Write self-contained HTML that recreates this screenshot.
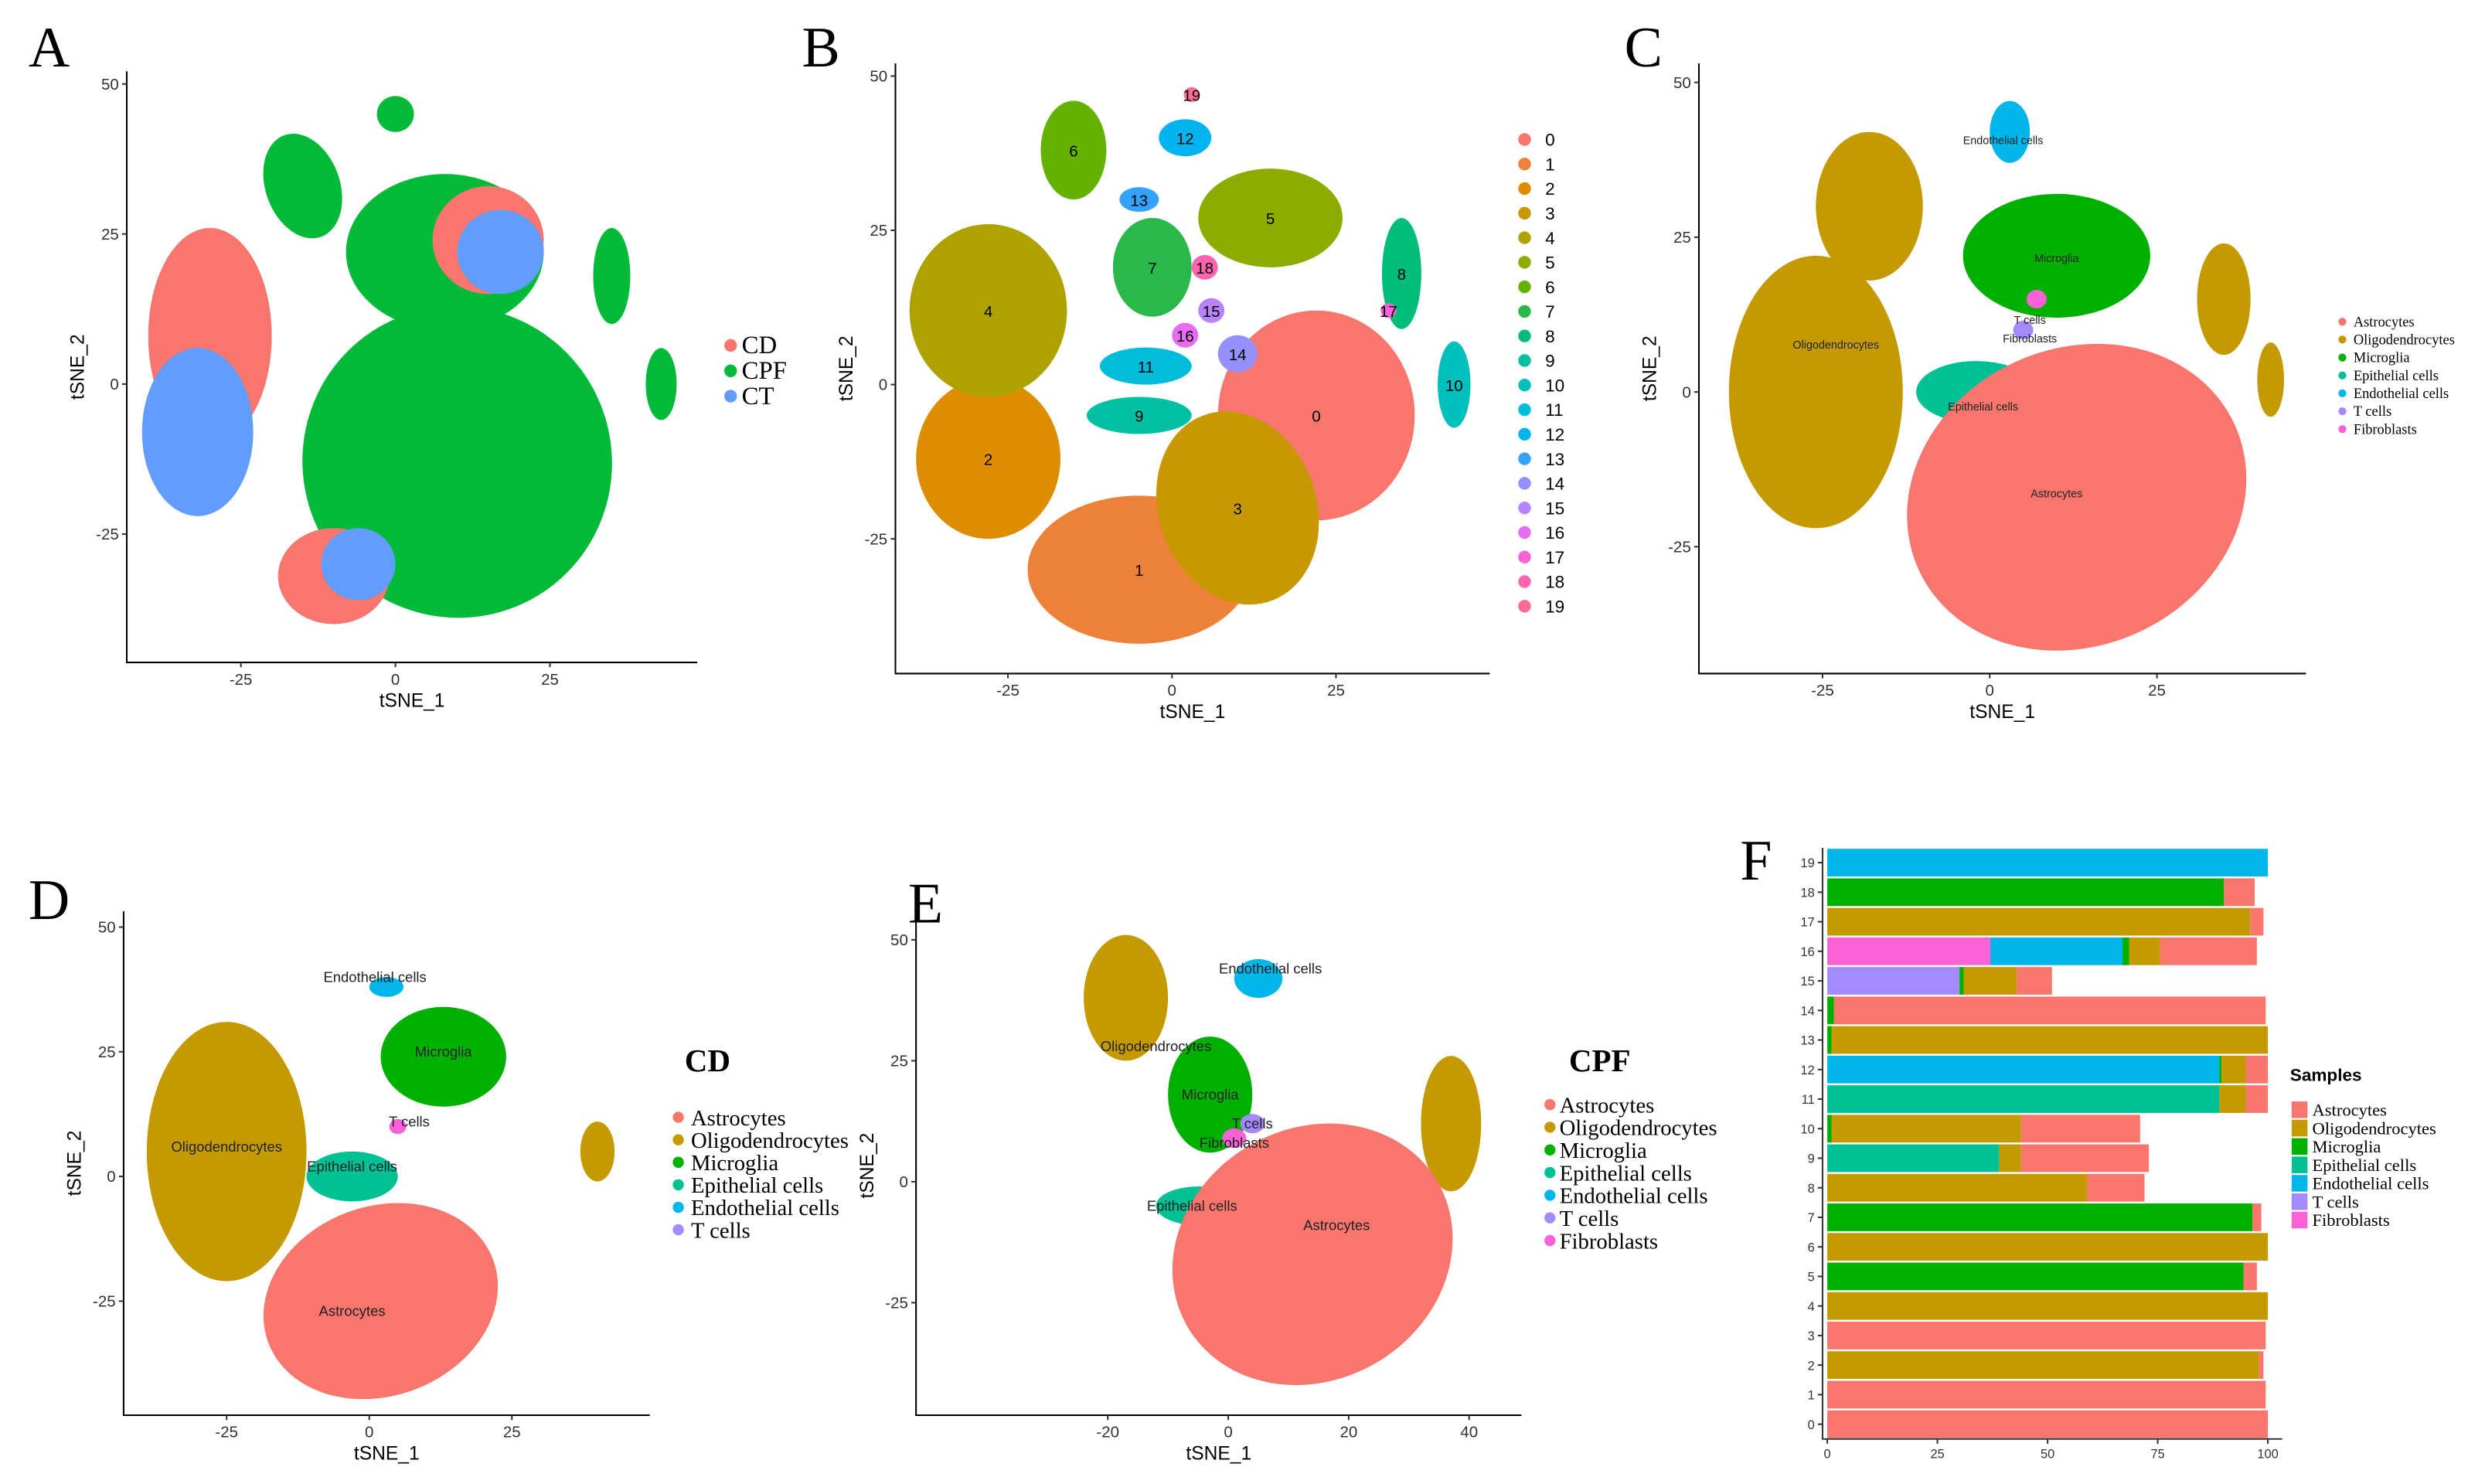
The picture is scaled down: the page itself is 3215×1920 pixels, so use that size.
<!DOCTYPE html>
<html><head><meta charset="utf-8">
<style>
html,body{margin:0;padding:0;background:#fff;}
svg{display:block;}
text{font-family:"Liberation Sans",sans-serif;}
.serif{font-family:"Liberation Serif",serif;}
</style></head>
<body>
<svg id="fig" width="3215" height="1920" viewBox="0 0 1568 936.4" xmlns="http://www.w3.org/2000/svg"></svg>
<script>
// ---------- DATA ----------
const clusterIds = [0,1,2,3,4,5,6,7,8,9,10,11,12,13,14,15,16,17,18,19];
const cellTypes = ["Astrocytes","Oligodendrocytes","Microglia","Epithelial cells","Endothelial cells","T cells","Fibroblasts"];
const fibroPct = [0,0,0,0,0,0,0,0,0,0,0,0,0,0,0,0,37,0,0,0];
const tcellPct = [0,0,0,0,0,0,0,0,0,0,0,0,0,0,0,30,0,0,0,0];
const endoPct  = [0,0,0,0,0,0,0,0,0,0,0,0,89,0,0,0,30,0,0,100];
const epiPct   = [0,0,0,0,0,0,0,0,0,39,0,89,0,0,0,0,0,0,0,0];
const microPct = [0,0,0,0,0,94.5,0,96.5,0,0,1,0,0.5,1,1.5,1,1.5,0,90,0];
const oligoPct = [0,0,98,0,100,0,100,0,59,5,43,6,5.5,99,0,12,7,96,0,0];
const astroPct = [100,99.5,1,99.5,0,3,0,2,13,29,27,5,5,0,98,8,22,3,7,0];
const xTicksF = [0,25,50,75,100];

// tSNE panel cluster summaries (data units)
const aCx=[-30,-32,-15,10,8,15,17,35,43,-10,-6,0];
const aCy=[8,-8,33,-13,22,24,22,18,0,-32,-30,45];
const aRx=[10,9,6,25,16,9,7,3,2.5,9,6,3];
const aRy=[18,14,9,26,13,9,7,8,6,8,6,3];
const aRot=[0,0,-20,-25,0,0,0,0,0,0,0,0];
const aCol=[0,2,1,1,1,0,2,1,1,0,2,1];
const aLegend=["CD","CPF","CT"];

const bCx=[22,-5,-28,10,-28,15,-15,-3,35,-5,43,-4,2,-5,10,6,2,33,5,3];
const bCy=[-5,-30,-12,-20,12,27,38,19,18,-5,0,3,40,30,5,12,8,12,19,47];
const bRx=[15,17,11,12,12,11,5,6,3,8,2.5,7,4,3,3,2,2,1.2,2,1.2];
const bRy=[17,12,13,16,14,8,8,8,9,3,7,3,3,2,3,2,2,1.2,2,1.2];
const bRot=[0,0,0,-20,0,0,0,0,0,0,0,0,0,0,0,0,0,0,0,0];

const cCx=[-26,-18,35,42,10,3,-2,13,5,7];
const cCy=[0,30,15,2,22,42,0,-17,10,15];
const cRx=[13,8,4,2,14,3,9,26,1.5,1.5];
const cRy=[22,12,9,6,10,5,5,24,1.5,1.5];
const cRot=[0,0,0,0,0,0,0,-25,0,0];
const cType=[1,1,1,1,2,4,3,0,5,6];

const dCx=[-25,40,13,3,-3,2,5];
const dCy=[5,5,24,38,0,-25,10];
const dRx=[14,3,11,3,8,21,1.5];
const dRy=[26,6,10,2,5,19,1.5];
const dRot=[0,0,0,0,0,-20,0];
const dType=[1,1,2,4,3,0,6];

const eCx=[-17,37,-3,5,-5,14,4,1];
const eCy=[38,12,18,42,-5,-15,12,9];
const eRx=[7,5,7,4,7,24,2,2];
const eRy=[13,14,12,4,4,26,2,2];
const eRot=[0,0,0,0,0,-30,0,0];
const eType=[1,1,2,4,3,0,5,6];

// ---------- RENDER ----------
const NS="http://www.w3.org/2000/svg";
const svg=document.getElementById("fig");
const typeCol=["#F8766D","#C49A00","#00B000","#00C094","#00B6EB","#A58AFF","#FB61D7"];
const aColors=["#F8766D","#00BA38","#619CFF"];
const bColors=["#F8766D","#EC8239","#DE8C00","#C79800","#AEA200","#8EAB00","#64B200","#2AB84B","#00BD7C","#00C0A3","#00C0BD","#00BCD8","#00B4EF","#35A2FF","#9590FF","#B983FF","#E76BF3","#FB61D7","#FF64B0","#FF6C91"];
function el(tag,attrs,parent){const e=document.createElementNS(NS,tag);for(const k in attrs)e.setAttribute(k,attrs[k]);(parent||svg).appendChild(e);return e;}
function txt(s,x,y,size,attrs,parent){const t=el("text",Object.assign({x:x,y:y,"font-size":size},attrs||{}),parent);t.textContent=s;return t;}
function lin(d0,d1,p0,p1){return v=>p0+(v-d0)*(p1-p0)/(d1-d0);}

function panel(name,box,xs,ys,xt,yt,letter,lx,ly){
  const g=el("g",{});
  
  
  const L=txt(letter,lx,ly,36,{"class":"serif"},g);
  
  
  const ax=el("path",{d:`M${box[0]} ${box[1]} V${box[3]} H${box[2]}`,stroke:"#000","stroke-width":1,fill:"none"},g);
  
  
  xt.forEach(v=>{const x=xs(v);el("line",{x1:x,x2:x,y1:box[3],y2:box[3]+3,stroke:"#333"},g);
    const t=txt(String(v),x,box[3]+14,10,{"text-anchor":"middle",fill:"#333"},g);
    });
  yt.forEach(v=>{const y=ys(v);el("line",{x1:box[0]-3,x2:box[0],y1:y,y2:y,stroke:"#333"},g);
    const t=txt(String(v),box[0]-5,y+3.5,10,{"text-anchor":"end",fill:"#333"},g);
    });
  return g;
}
function axisTitles(g,box){
  const cx=(box[0]+box[2])/2;
  const t1=txt("tSNE_1",cx,box[3]+28,12,{"text-anchor":"middle"},g);
  
  const yy=(box[1]+box[3])/2,xx=box[0]-27;
  const t2=txt("tSNE_2",xx,yy,12,{"text-anchor":"middle",transform:`rotate(-90 ${xx} ${yy})`},g);
  
}
function blobs(g,xs,ys,cx,cy,rx,ry,rot,colFn,nameFn){
  const kx=Math.abs(xs(1)-xs(0)),ky=Math.abs(ys(1)-ys(0));
  for(let i=0;i<cx.length;i++){
    const px=xs(cx[i]),py=ys(cy[i]);
    const e=el("ellipse",{cx:px,cy:py,rx:rx[i]*kx,ry:ry[i]*ky,fill:colFn(i),transform:`rotate(${rot[i]} ${px} ${py})`},g);
    
    
  }
}

// Panel A
{const box=[80,45,440,418];const xs=lin(-25,25,152,347),ys=lin(-25,50,337,53);
 const g=panel("panel-a",box,xs,ys,[-25,0,25],[-25,0,25,50],"A",18,42);
 blobs(g,xs,ys,aCx,aCy,aRx,aRy,aRot,i=>aColors[aCol[i]],i=>'cluster-'+aLegend[aCol[i]].toLowerCase());
 axisTitles(g,box);
 aLegend.forEach((s,i)=>{const y=218+i*16;
  const c=el("circle",{cx:461,cy:y,r:4,fill:aColors[i]},g);
  const t=txt(s,468,y+5,16,{"class":"serif"},g);});}

// Panel B
{const box=[565,40,940,425];const xs=lin(-25,25,636,843),ys=lin(-25,50,340,48);
 const g=panel("panel-b",box,xs,ys,[-25,0,25],[-25,0,25,50],"B",506,42);
 blobs(g,xs,ys,bCx,bCy,bRx,bRy,bRot,i=>bColors[i],i=>'cluster-'+clusterIds[i]);
 clusterIds.forEach((id,i)=>{const t=txt(String(id),xs(bCx[i]),ys(bCy[i])+4,10,{"text-anchor":"middle"},g);});
 axisTitles(g,box);
 clusterIds.forEach((id,i)=>{const y=88+i*15.5;
  const c=el("circle",{cx:962,cy:y,r:4,fill:bColors[i]},g);
  const t=txt(String(id),975,y+4,11,{},g);});}

// Panel C
{const box=[1072,40,1455,425];const xs=lin(-25,25,1150,1361),ys=lin(-25,50,345,52);
 const g=panel("panel-c",box,xs,ys,[-25,0,25],[-25,0,25,50],"C",1025,42);
 blobs(g,xs,ys,cCx,cCy,cRx,cRy,cRot,i=>typeCol[cType[i]],i=>'cluster-'+cellTypes[cType[i]].toLowerCase().replace(' ','-'));
 [[-23,7,1],[10,-17,0],[10,21,2],[-1,-3,3],[2,40,4],[6,11,5],[6,8,6]].forEach(a=>{const t=txt(cellTypes[a[2]],xs(a[0]),ys(a[1]),7,{"text-anchor":"middle",fill:"#222"},g);});
 axisTitles(g,box);
 cellTypes.forEach((s,i)=>{const y=203+i*11.3;
  const c=el("circle",{cx:1478,cy:y,r:2.5,fill:typeCol[i]},g);
  const t=txt(s,1485,y+3,9,{"class":"serif"},g);});}

// Panel D
{const box=[78,575,410,893];const xs=lin(-25,25,143,323),ys=lin(-25,50,821,585);
 const g=panel("panel-d",box,xs,ys,[-25,0,25],[-25,0,25,50],"D",18,580);
 blobs(g,xs,ys,dCx,dCy,dRx,dRy,dRot,i=>typeCol[dType[i]],i=>'cluster-'+cellTypes[dType[i]].toLowerCase().replace(' ','-'));
 [[-25,5,0,1],[-3,-28,0,0],[13,24,0,2],[1,39,0,4],[-3,1,0,3],[7,10,0,5]].forEach(a=>{const t=txt(cellTypes[a[3]],xs(a[0]),ys(a[1]),9,{"text-anchor":"middle",fill:"#222"},g);});
 axisTitles(g,box);
 const T=txt("CD",432,676,20,{"class":"serif","font-weight":"bold"},g);
 cellTypes.slice(0,6).forEach((s,i)=>{const y=705+i*14.2;
  const c=el("circle",{cx:428,cy:y,r:3.5,fill:typeCol[i]},g);
  const t=txt(s,436,y+5,14,{"class":"serif"},g);});}

// Panel E
{const box=[578,578,960,893];const xs=lin(-20,40,699,927),ys=lin(-25,50,822,593);
 const g=panel("panel-e",box,xs,ys,[-20,0,20,40],[-25,0,25,50],"E",573,582);
 blobs(g,xs,ys,eCx,eCy,eRx,eRy,eRot,i=>typeCol[eType[i]],i=>'cluster-'+cellTypes[eType[i]].toLowerCase().replace(' ','-'));
 [[-12,27,1],[18,-10,0],[-3,17,2],[7,43,4],[-6,-6,3],[4,11,5],[1,7,6]].forEach(a=>{const t=txt(cellTypes[a[2]],xs(a[0]),ys(a[1]),9,{"text-anchor":"middle",fill:"#222"},g);});
 axisTitles(g,box);
 const T=txt("CPF",990,676,20,{"class":"serif","font-weight":"bold"},g);
 cellTypes.forEach((s,i)=>{const y=697+i*14.3;
  const c=el("circle",{cx:978,cy:y,r:3.5,fill:typeCol[i]},g);
  const t=txt(s,984,y+5,14,{"class":"serif"},g);});}

// Panel F
{const g=el("g",{});
 
 const L=txt("F",1098,555,36,{"class":"serif"},g);
 const x0=1150,x1=1440,yTop=535,yBot=908;
 const xs=lin(0,100,1153,1431);
 const band=(yBot-yTop)/clusterIds.length;
 const ys=i=>yBot-(i+0.5)*band;
 el("path",{d:`M${x0} ${yTop} V${yBot} H${x1}`,stroke:"#333",fill:"none"},g);
 const series=[[fibroPct,6],[tcellPct,5],[endoPct,4],[epiPct,3],[microPct,2],[oligoPct,1],[astroPct,0]];
 clusterIds.forEach((id,i)=>{
  let acc=0;
  series.forEach(([arr,ti])=>{const v=arr[i];if(v>0){
    const r=el("rect",{x:xs(acc),y:ys(i)-band/2+0.6,width:xs(acc+v)-xs(acc),height:band-1.2,fill:typeCol[ti]},g);
    
    
    acc+=v;}});
  el("line",{x1:x0-3,x2:x0,y1:ys(i),y2:ys(i),stroke:"#333"},g);
  const t=txt(String(id),x0-5,ys(i)+3,8,{"text-anchor":"end",fill:"#333"},g);
  
 });
 xTicksF.forEach(v=>{el("line",{x1:xs(v),x2:xs(v),y1:yBot,y2:yBot+3,stroke:"#333"},g);
  const t=txt(String(v),xs(v),yBot+12,8,{"text-anchor":"middle",fill:"#333"},g);
  });
 const T=txt("Samples",1445,682,11,{"font-weight":"bold"},g);
 cellTypes.forEach((s,i)=>{const y=695+i*11.6;
  const r=el("rect",{x:1446,y:y,width:10,height:10.5,fill:typeCol[i]},g);
  const t=txt(s,1459,y+9,11,{"class":"serif"},g);});
}
</script>
</body></html>
